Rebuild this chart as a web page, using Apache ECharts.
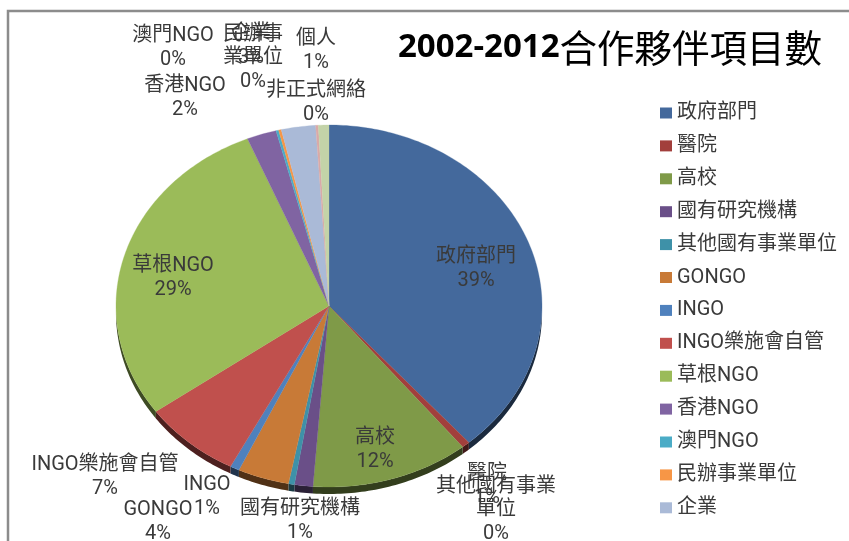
<!DOCTYPE html>
<html>
<head>
<meta charset="utf-8">
<script src="https://cdn.jsdelivr.net/npm/echarts@6/dist/echarts.min.js"></script>
<style>
html,body{margin:0;padding:0;background:#fff;}
#chart{width:849px;height:541px;}
</style>
</head>
<body>
<div id="chart"></div>
<script>
var categories = ['政府部門','醫院','高校','國有研究機構','其他國有事業單位','GONGO','INGO','INGO樂施會自管','草根NGO','香港NGO','澳門NGO','民辦事業單位','企業','非正式網絡','個人'];
var values = [38.6,0.6,12,1.4,0.45,3.9,0.7,7.45,28.65,2.25,0.2,0.2,2.6,0.2,0.8];
var colors = ['#44699c','#a23f3c','#7f9a48','#6a4f88','#3e91a8','#c87a37','#4f81bd','#c0504d','#9bbb59','#8064a2','#4bacc6','#f79646','#aabad7','#d9a9a8','#c3d3a8'];
// only the first 13 fit in the legend of the original
var legendItems = categories.slice(0, 13);
// excel wraps these two
var labelNames = {'其他國有事業單位':'其他國有事業\n單位','民辦事業單位':'民辦事\n業單位'};
// label centres, as placed in the original (overlaps included)
var labelPos = [[476,269],[487,486],[375,450],[300,521],[496,510],[158,522],[207,497],[105,477],[173,278],[185,98],[173,48],[253,58],[251,46],[316,103],[316,51]];

var cx = 329, cy = 306, rx = 213, ry = 181, depth = 7;
var total = 0;
for (var i = 0; i < values.length; i++) total += values[i];

function edge(t, dy) {
    return [cx + rx * Math.sin(t), cy + dy - ry * Math.cos(t)];
}

function darken(hex) {
    var n = parseInt(hex.slice(1), 16);
    var f = 0.4;
    return 'rgb(' + Math.round((n >> 16) * f) + ',' + Math.round(((n >> 8) & 255) * f) + ',' + Math.round((n & 255) * f) + ')';
}

function makeRender(idx) {
    var before = 0;
    for (var i = 0; i < idx; i++) before += values[i];
    var a0 = before / total * Math.PI * 2;
    var a1 = (before + values[idx]) / total * Math.PI * 2;
    return function (params, api) {
        var top = [[cx, cy]], arc = [], n = Math.max(4, Math.ceil((a1 - a0) * 60));
        for (var k = 0; k <= n; k++) {
            var t = a0 + (a1 - a0) * k / n;
            top.push(edge(t, 0));
            arc.push(t);
        }
        var children = [];
        // side wall, only the front half shows
        var wall = [];
        for (var j = 0; j < arc.length; j++) {
            if (arc[j] > Math.PI / 2 - 0.01 && arc[j] < Math.PI * 1.5 + 0.01) wall.push(arc[j]);
        }
        if (wall.length > 1) {
            var pts = [];
            for (j = 0; j < wall.length; j++) pts.push(edge(wall[j], 0));
            for (j = wall.length - 1; j >= 0; j--) pts.push(edge(wall[j], depth));
            children.push({type: 'polygon', shape: {points: pts}, style: {fill: darken(colors[idx])}});
        }
        children.push({type: 'polygon', shape: {points: top}, style: {fill: colors[idx], stroke: colors[idx], lineWidth: 0.3}});
        return {type: 'group', children: children};
    };
}

function makeLabel(idx) {
    return {
        type: 'text',
        z: 10,
        style: {
            x: labelPos[idx][0],
            y: labelPos[idx][1],
            text: (labelNames[categories[idx]] || categories[idx]) + '\n' + Math.round(values[idx] / total * 100) + '%',
            fill: '#3a3a3a',
            font: '20px Roboto, "Noto Sans CJK TC"',
            lineHeight: 23.5,
            align: 'center',
            verticalAlign: 'middle'
        }
    };
}

var series = [];
for (var s = 0; s < categories.length; s++) {
    series.push({
        name: categories[s],
        type: 'custom',
        coordinateSystem: 'none',
        itemStyle: {color: colors[s]},
        renderItem: makeRender(s),
        data: [[values[s]]],
        silent: true,
        animation: false
    });
}

var graphics = [
    {type: 'polyline', shape: {points: [[8, 541], [8, 11], [849, 11]]}, style: {stroke: '#8c8c8c', lineWidth: 2.5, fill: null}}
];
for (var g = 0; g < categories.length; g++) graphics.push(makeLabel(g));

var option = {
    backgroundColor: '#fff',
    animation: false,
    title: {
        left: 393,
        top: 24,
        text: '{a|2002-2012}{b|合作夥伴項目數}',
        textStyle: {
            rich: {
                a: {fontFamily: 'Open Sans', fontWeight: 'bold', fontSize: 33, color: '#000'},
                b: {fontFamily: 'Noto Sans CJK TC', fontWeight: 'normal', fontSize: 37.5, color: '#000'}
            }
        }
    },
    legend: {
        orient: 'vertical',
        left: 655,
        top: 98,
        data: legendItems,
        icon: 'rect',
        itemWidth: 12,
        itemHeight: 11,
        itemGap: 12.9,
        selectedMode: false,
        textStyle: {fontFamily: 'Roboto, "Noto Sans CJK TC"', fontSize: 20, lineHeight: 20, color: '#3a3a3a'}
    },
    graphic: graphics,
    series: series
};
var myChart = echarts.init(document.getElementById('chart'));
myChart.setOption(option);
</script>
</body>
</html>
